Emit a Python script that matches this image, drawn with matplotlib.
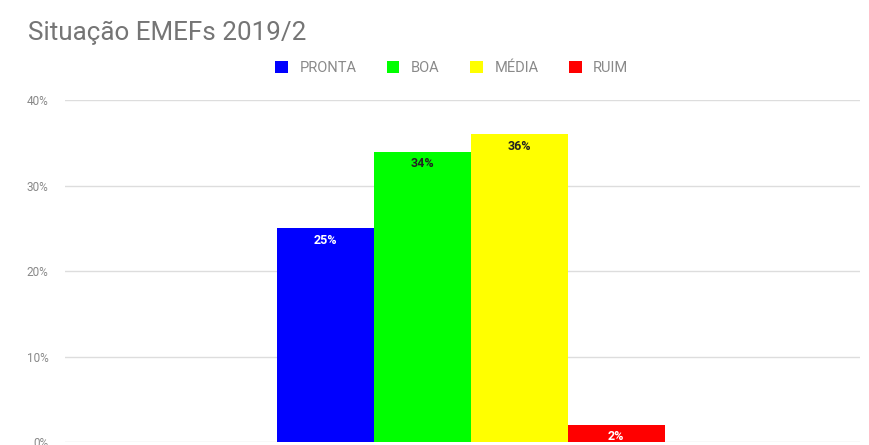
import matplotlib
matplotlib.use("Agg")
import matplotlib.pyplot as plt
import numpy as np

plt.rcParams['font.family'] = ['Roboto', 'DejaVu Sans']

title = "Situação EMEFs 2019/2"
series = ["PRONTA", "BOA", "MÉDIA", "RUIM"]
values = [25, 34, 36, 2]
colors = ["#0000ff", "#00ff00", "#ffff00", "#ff0000"]
label_colors = ["white", "#222222", "#222222", "white"]
yticks = [0, 10, 20, 30, 40]

fig = plt.figure(figsize=(8.69, 4.45), dpi=100)
ax = fig.add_axes([0.0748, 0.0067, 0.915, 0.768])

width = 0.122
n = len(series)
offsets = (np.arange(n) - (n - 1) / 2) * width + 0.01
for i, (name, v, c, lc) in enumerate(zip(series, values, colors, label_colors)):
    ax.bar(offsets[i], v, width=width, color=c, label=name, zorder=3)
    ax.text(offsets[i], v - 0.6, f"{v}%", ha="center", va="top",
            fontsize=9, fontweight="bold", color=lc, zorder=4)

ax.set_xlim(-0.5, 0.5)
ax.set_ylim(0, 40)
ax.set_yticks(yticks)
ax.set_yticklabels([f"{t}%" for t in yticks], fontsize=8.5, color="#888888")
ax.set_xticks([])
ax.tick_params(axis="y", length=0, pad=12)
ax.yaxis.grid(True, color="#dddddd", linewidth=1, zorder=0)
for s in ax.spines.values():
    s.set_visible(False)

fig.text(0.032, 0.925, title, fontsize=18.7, color="#757575", ha="left", va="center")

handles, labels = ax.get_legend_handles_labels()
fig.legend(handles, labels, loc="center", bbox_to_anchor=(0.52, 0.847), ncol=4,
           frameon=False, fontsize=10.5, labelcolor="#8a8a8a", handlelength=0.85,
           handleheight=0.85, handletextpad=0.8, columnspacing=2.1)

fig.savefig("out.png", dpi=100, facecolor="white")
